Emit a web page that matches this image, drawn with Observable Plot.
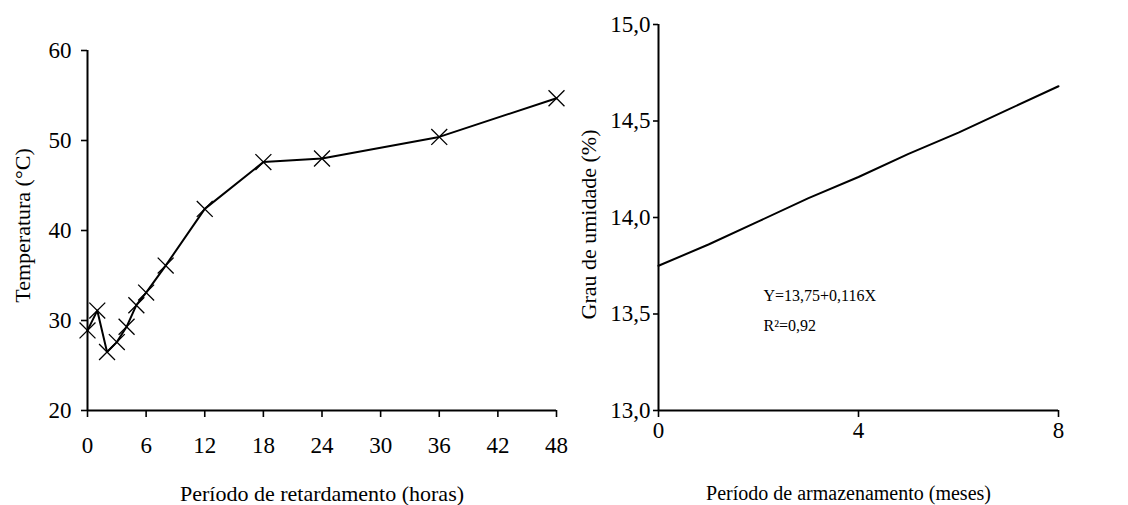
<!DOCTYPE html>
<html>
<head>
<meta charset="utf-8">
<script src="https://cdn.jsdelivr.net/npm/d3@7"></script>
<script src="https://cdn.jsdelivr.net/npm/@observablehq/plot@0.6"></script>
<style>
  body { margin: 0; background: #fff; }
  #wrap { position: relative; width: 1128px; height: 505px; overflow: hidden; }
  #left, #right { position: absolute; top: 0; }
  #left { left: 0; }
  #right { left: 564px; }
  svg { overflow: visible !important; }
</style>
</head>
<body>
<div id="wrap"><div id="left"></div><div id="right"></div></div>
<script>
// Left chart: temperature vs delay period
const hours = [0, 1, 2, 3, 4, 5, 6, 8, 12, 18, 24, 36, 48];
const temperature = [28.9, 31.1, 26.5, 27.6, 29.3, 31.7, 33.1, 36.1, 42.4, 47.6, 48.0, 50.4, 54.7];
const hourTicks = [0, 6, 12, 18, 24, 30, 36, 42, 48];
const tempTicks = [20, 30, 40, 50, 60];
const leftXLabel = "Período de retardamento (horas)";
const leftYLabel = "Temperatura (°C)";

// Right chart: moisture vs storage period
const months = [0, 1, 2, 3, 4, 5, 6, 7, 8];
const moisture = [13.75, 13.86, 13.98, 14.10, 14.21, 14.33, 14.44, 14.56, 14.68];
const monthTicks = [0, 4, 8];
const moistureTicks = [13.0, 13.5, 14.0, 14.5, 15.0];
const rightXLabel = "Período de armazenamento (meses)";
const rightYLabel = "Grau de umidade (%)";
const annotTexts = ["Y=13,75+0,116X", "R²=0,92"];
const annotX = [2.1, 2.1];
const annotY = [13.596, 13.44];

const font = "'Liberation Serif', 'Times New Roman', serif";
const leftData = hours.map((h, i) => ({x: h, y: temperature[i]}));
const rightData = months.map((m, i) => ({x: m, y: moisture[i]}));
const annots = annotTexts.map((t, i) => ({t, x: annotX[i], y: annotY[i]}));
const comma = d => d.toFixed(1).replace(".", ",");

const left = Plot.plot({
  width: 564, height: 505,
  marginLeft: 87, marginRight: 8, marginTop: 50, marginBottom: 95,
  style: {fontFamily: font, fontSize: "23px", color: "#000", background: "transparent", overflow: "visible"},
  x: {domain: [0, 48]},
  y: {domain: [20, 60]},
  marks: [
    Plot.axisX({ticks: hourTicks, tickSize: 7, tickPadding: 19, label: null, strokeWidth: 1.6}),
    Plot.axisY({ticks: tempTicks, tickSize: 6, tickPadding: 10, label: null, strokeWidth: 1.6}),
    Plot.ruleY([20], {stroke: "#000", strokeWidth: 2}),
    Plot.ruleX([0], {stroke: "#000", strokeWidth: 2}),
    Plot.line(leftData, {x: "x", y: "y", stroke: "#000", strokeWidth: 2}),
    Plot.dot(leftData, {x: "x", y: "y", symbol: "times", r: 7.3, stroke: "#000", strokeWidth: 1.3}),
    Plot.text([leftXLabel], {frameAnchor: "bottom", dy: 83, fontSize: 22, textAnchor: "middle", lineAnchor: "middle", fill: "#000"}),
    Plot.text([leftYLabel], {frameAnchor: "left", dx: -65, dy: -5, rotate: -90, fontSize: 22, textAnchor: "middle", lineAnchor: "middle", fill: "#000"})
  ]
});
document.getElementById("left").appendChild(left);

const right = Plot.plot({
  width: 564, height: 505,
  marginLeft: 94, marginRight: 70, marginTop: 24, marginBottom: 95,
  style: {fontFamily: font, fontSize: "23px", color: "#000", background: "transparent", overflow: "visible"},
  x: {domain: [0, 8]},
  y: {domain: [13, 15]},
  marks: [
    Plot.axisX({ticks: monthTicks, tickSize: 7, tickPadding: 4, label: null, strokeWidth: 1.6}),
    Plot.axisY({ticks: moistureTicks, tickSize: 5, tickPadding: 3, tickFormat: comma, label: null, strokeWidth: 1.6}),
    Plot.ruleY([13], {stroke: "#000", strokeWidth: 2}),
    Plot.ruleX([0], {stroke: "#000", strokeWidth: 2}),
    Plot.line(rightData, {x: "x", y: "y", stroke: "#000", strokeWidth: 2}),
    Plot.text(annots, {x: "x", y: "y", text: "t", textAnchor: "start", fontSize: 16, fill: "#000"}),
    Plot.text([rightXLabel], {frameAnchor: "bottom", dx: -10, dy: 83, fontSize: 20, textAnchor: "middle", lineAnchor: "middle", fill: "#000"}),
    Plot.text([rightYLabel], {frameAnchor: "left", dx: -70, dy: 7, rotate: -90, fontSize: 22, textAnchor: "middle", lineAnchor: "middle", fill: "#000"})
  ]
});
document.getElementById("right").appendChild(right);
</script>
</body>
</html>
